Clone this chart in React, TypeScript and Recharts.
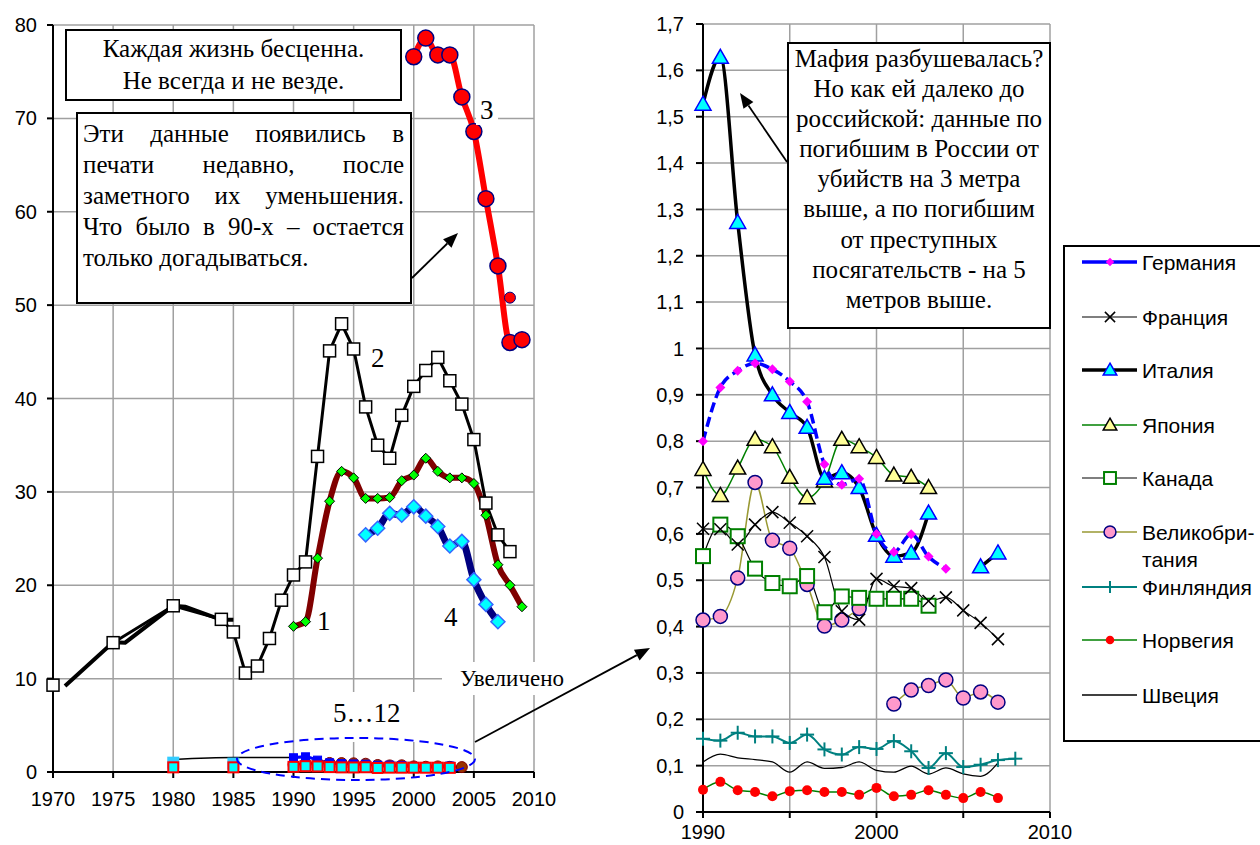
import React from 'react';
import { LineChart, Line, XAxis, YAxis, CartesianGrid } from 'recharts';

// left chart: killed per year, thousands
const s2Years = [1970, 1971, 1975, 1980, 1984, 1985, 1986, 1987, 1988, 1989, 1990, 1991, 1992, 1993, 1994, 1995, 1996, 1997, 1998, 1999, 2000, 2001, 2002, 2003, 2004, 2005, 2006, 2007, 2008];
const s2Values = [9.3, null, 13.85, 17.8, 16.35, 15.0, 10.6, 11.35, 14.3, 18.4, 21.1, 22.5, 33.8, 45.1, 48.0, 45.3, 39.1, 35.0, 33.6, 38.2, 41.3, 43.0, 44.4, 41.9, 39.4, 35.6, 28.8, 25.4, 23.6];
const s2bYears = [1971, 1975, 1976, 1980, 1981, 1984, 1985];
const s2bValues = [9.2, 13.9, 13.85, 17.8, 17.7, 16.3, 16.3];
const s1Years = [1990, 1991, 1992, 1993, 1994, 1995, 1996, 1997, 1998, 1999, 2000, 2001, 2002, 2003, 2004, 2005, 2006, 2007, 2008, 2009];
const s1Values = [15.6, 16.1, 22.9, 29.0, 32.2, 31.5, 29.3, 29.3, 29.4, 31.2, 31.8, 33.6, 32.2, 31.5, 31.5, 30.9, 27.5, 22.2, 20.0, 17.7];
const s3Years = [2000, 2001, 2002, 2003, 2004, 2005, 2006, 2007, 2008, 2009];
const s3Values = [76.6, 78.6, 76.8, 76.8, 72.3, 68.6, 61.4, 54.2, 46.0, 46.3];
const s3bYears = [2008];
const s3bValues = [50.8];
const s4Years = [1996, 1997, 1998, 1999, 2000, 2001, 2002, 2003, 2004, 2005, 2006, 2007];
const s4Values = [25.4, 26.1, 27.7, 27.5, 28.4, 27.4, 26.3, 24.2, 24.7, 20.6, 17.95, 16.1];
const earlyYears = [1980, 1985, 1991];
const earlyBlack = [1.35, 1.55, 1.55];
const earlyCyan = [1.0, 0.9, null];
const earlyRed = [0.5, 0.5, null];

const leftXTicks = [1970, 1975, 1980, 1985, 1990, 1995, 2000, 2005, 2010];
const leftYTicks = [0, 10, 20, 30, 40, 50, 60, 70, 80];

// right chart: per 100 000
const rightYears = [1990, 1991, 1992, 1993, 1994, 1995, 1996, 1997, 1998, 1999, 2000, 2001, 2002, 2003, 2004, 2005, 2006, 2007, 2008];
const germany = [0.8, 0.916, 0.952, 0.968, 0.955, 0.929, 0.885, 0.75, 0.706, 0.719, 0.6, 0.561, 0.599, 0.551, 0.525, null, null, null, null];
const france = [0.611, 0.61, 0.577, 0.62, 0.647, 0.624, 0.595, 0.55, 0.433, 0.415, 0.503, 0.487, 0.483, 0.455, 0.463, 0.435, 0.408, 0.373, null];
const italy = [1.527, 1.628, 1.272, 0.986, 0.9, 0.862, 0.83, 0.72, 0.732, 0.7, 0.597, 0.552, 0.559, 0.645, null, null, 0.529, 0.559, null];
const japan = [0.739, 0.683, 0.742, 0.804, 0.788, 0.722, 0.678, 0.714, 0.804, 0.788, 0.765, 0.727, 0.722, 0.7, null, null, null, null, null];
const canada = [0.552, 0.62, 0.595, 0.525, 0.494, 0.487, 0.509, 0.431, 0.465, 0.462, 0.46, 0.46, 0.46, 0.445, null, null, null, null, null];
const uk = [0.414, 0.422, 0.505, 0.711, 0.586, 0.569, 0.491, 0.401, 0.414, 0.439, null, 0.233, 0.263, 0.273, 0.285, 0.246, 0.259, 0.237, null];
const finland = [0.158, 0.154, 0.171, 0.163, 0.163, 0.149, 0.167, 0.135, 0.124, 0.14, 0.136, 0.153, 0.131, 0.095, 0.127, 0.097, 0.102, 0.112, 0.115];
const sweden = [0.108, 0.125, 0.117, 0.113, 0.108, 0.086, 0.108, 0.094, 0.096, 0.108, 0.09, 0.086, 0.099, 0.082, 0.095, 0.082, 0.077, 0.106, null];
const norway = [0.048, 0.065, 0.047, 0.043, 0.034, 0.045, 0.047, 0.043, 0.043, 0.037, 0.052, 0.034, 0.037, 0.047, 0.037, 0.03, 0.043, 0.03, null];

const rightXTicks = [1990, 1995, 2000, 2005, 2010];
const rightYTicks = [0, 0.1, 0.2, 0.3, 0.4, 0.5, 0.6, 0.7, 0.8, 0.9, 1, 1.1, 1.2, 1.3, 1.4, 1.5, 1.6, 1.7];

const SANS = '"Liberation Sans", Arial, sans-serif';
const SERIF = '"Liberation Serif", "Times New Roman", serif';
const GRID = '#a0a0a0';

function Marker({ shape, cx, cy, r, fill, stroke, sw }: any) {
  if (shape === 'diamond')
    return <polygon points={`${cx},${cy - r} ${cx + r},${cy} ${cx},${cy + r} ${cx - r},${cy}`} fill={fill} stroke={stroke} strokeWidth={sw} />;
  if (shape === 'triangle')
    return <polygon points={`${cx},${cy - r} ${cx + r},${cy + r * 0.75} ${cx - r},${cy + r * 0.75}`} fill={fill} stroke={stroke} strokeWidth={sw} />;
  if (shape === 'square')
    return <rect x={cx - r} y={cy - r} width={2 * r} height={2 * r} fill={fill} stroke={stroke} strokeWidth={sw} />;
  if (shape === 'circle')
    return <circle cx={cx} cy={cy} r={r} fill={fill} stroke={stroke} strokeWidth={sw} />;
  if (shape === 'cross')
    return (
      <g stroke={stroke} strokeWidth={sw}>
        <line x1={cx - r} y1={cy - r} x2={cx + r} y2={cy + r} />
        <line x1={cx - r} y1={cy + r} x2={cx + r} y2={cy - r} />
      </g>
    );
  if (shape === 'plus')
    return (
      <g stroke={stroke} strokeWidth={sw}>
        <line x1={cx - r} y1={cy} x2={cx + r} y2={cy} />
        <line x1={cx} y1={cy - r} x2={cx} y2={cy + r} />
      </g>
    );
  return null;
}

const mk = (shape: string, r: number, fill: string, stroke: string, sw = 1) => (p: any) => {
  const { cx, cy, index, value } = p;
  if (value == null || cx == null || cy == null || isNaN(cy)) return <g key={`d${index}`} />;
  return <g key={`d${index}`}><Marker shape={shape} cx={cx} cy={cy} r={r} fill={fill} stroke={stroke} sw={sw} /></g>;
};

const pairs = (years: number[], values: (number | null)[]) => years.map((year, i) => ({ year, v: values[i] }));

const rightData = rightYears.map((year, i) => ({
  year,
  germany: germany[i],
  france: france[i],
  italy: italy[i],
  japan: japan[i],
  canada: canada[i],
  uk: uk[i],
  finland: finland[i],
  sweden: sweden[i],
  norway: norway[i],
}));

const clusterYears = rightYears.slice(0, 15);

const rightSeries = [
  { key: 'sweden', name: 'Швеция', color: '#000', width: 1.3, dash: undefined, shape: 'none', r: 0, fill: '', stroke: '', sw: 1 },
  { key: 'norway', name: 'Норвегия', color: '#008000', width: 1.5, dash: undefined, shape: 'circle', r: 5, fill: '#ff0000', stroke: 'none', sw: 0 },
  { key: 'finland', name: 'Финляндия', color: '#008080', width: 2, dash: undefined, shape: 'plus', r: 7, fill: 'none', stroke: '#008080', sw: 2 },
  { key: 'uk', name: 'Великобри-\nтания', color: '#999933', width: 1.5, dash: undefined, shape: 'circle', r: 7, fill: '#ff99cc', stroke: '#000080', sw: 1.5 },
  { key: 'canada', name: 'Канада', color: '#000', width: 1.2, dash: undefined, shape: 'square', r: 7, fill: '#fff', stroke: '#008000', sw: 2 },
  { key: 'france', name: 'Франция', color: '#000', width: 1.2, dash: undefined, shape: 'cross', r: 6, fill: 'none', stroke: '#000', sw: 1.5 },
  { key: 'japan', name: 'Япония', color: '#008000', width: 1.5, dash: undefined, shape: 'triangle', r: 8, fill: '#ffff99', stroke: '#000', sw: 1.5 },
  { key: 'italy', name: 'Италия', color: '#000', width: 3.5, dash: undefined, shape: 'triangle', r: 8, fill: '#00ffff', stroke: '#0000ff', sw: 1.5 },
  { key: 'germany', name: 'Германия', color: '#0000ff', width: 3.5, dash: '10 5', shape: 'diamond', r: 5, fill: '#ff00ff', stroke: 'none', sw: 0 },
];
const legendOrder = ['germany', 'france', 'italy', 'japan', 'canada', 'uk', 'finland', 'norway', 'sweden'];
const legendY = [262, 317, 370, 425, 478, 532, 587, 640, 695];

const tickStyle = { fill: '#000', fontSize: 20, fontFamily: SANS };

function Arrow({ x1, y1, x2, y2 }: any) {
  const a = Math.atan2(y2 - y1, x2 - x1);
  const L = 15, W = 6;
  const bx = x2 - L * Math.cos(a), by = y2 - L * Math.sin(a);
  const px = -Math.sin(a) * W, py = Math.cos(a) * W;
  return (
    <g>
      <line x1={x1} y1={y1} x2={bx} y2={by} stroke="#000" strokeWidth={1.8} />
      <polygon points={`${x2},${y2} ${bx + px},${by + py} ${bx - px},${by - py}`} fill="#000" />
    </g>
  );
}

const rightFmt = (v: number) => (v === 0 ? '0' : v === 1 ? '1' : v.toFixed(1).replace('.', ','));

export default function App() {
  const box: React.CSSProperties = {
    position: 'absolute', background: '#fff', border: '2px solid #000', boxSizing: 'border-box',
    fontFamily: SERIF, fontSize: 25, color: '#000',
  };
  const justLine: React.CSSProperties = { textAlign: 'justify', textAlignLast: 'justify', whiteSpace: 'nowrap', fontFamily: SERIF };
  const numStyle: React.CSSProperties = { position: 'absolute', fontFamily: SERIF, fontSize: 27, lineHeight: '30px', background: '#fff' };

  return (
    <div style={{ position: 'absolute', left: 0, top: 0, width: 1260, height: 845, overflow: 'hidden', background: '#fff' }}>
      <div style={{ position: 'absolute', left: 0, top: 0 }}>
        <LineChart width={580} height={830} margin={{ top: 25, right: 46, bottom: 30, left: 0 }}>
          <CartesianGrid stroke={GRID} strokeWidth={1.5} />
          <XAxis dataKey="year" type="number" domain={[1970, 2010]} ticks={leftXTicks} height={28}
            stroke="#000" strokeWidth={2} tickSize={6} tickMargin={14} tick={tickStyle} interval={0} />
          <YAxis type="number" domain={[0, 80]} ticks={leftYTicks} width={53}
            stroke="#000" strokeWidth={2} tickSize={6} tickMargin={10} tick={tickStyle} interval={0} />
          <Line data={pairs(s2bYears, s2bValues)} dataKey="v" type="linear" stroke="#000" strokeWidth={4} dot={false} activeDot={false} isAnimationActive={false} />
          <Line data={pairs(s2Years, s2Values)} dataKey="v" type="linear" stroke="#000" strokeWidth={3}
            dot={mk('square', 6, '#fff', '#000', 1.5)} activeDot={false} isAnimationActive={false} />
          <Line data={pairs(s1Years, s1Values)} dataKey="v" type="monotone" stroke="#800000" strokeWidth={6}
            dot={mk('diamond', 5, '#00ff00', '#000', 1)} activeDot={false} isAnimationActive={false} />
          <Line data={pairs(s4Years, s4Values)} dataKey="v" type="monotone" stroke="#000080" strokeWidth={7}
            dot={mk('diamond', 7, '#00ffff', '#3366ff', 1.5)} activeDot={false} isAnimationActive={false} />
          <Line data={pairs(s3Years, s3Values)} dataKey="v" type="monotone" stroke="#ff0000" strokeWidth={6}
            dot={mk('circle', 8, '#ff0000', '#000080', 1.5)} activeDot={false} isAnimationActive={false} />
          <Line data={pairs(s3bYears, s3bValues)} dataKey="v" stroke="none"
            dot={mk('circle', 5.5, '#ff0000', '#000080', 1)} activeDot={false} isAnimationActive={false} />
          {/* 5...12 cluster */}
          <Line data={pairs(earlyYears, earlyBlack)} dataKey="v" type="monotone" stroke="#000" strokeWidth={1.5} dot={false} activeDot={false} isAnimationActive={false} />
          <Line data={pairs(earlyYears, earlyCyan)} dataKey="v" stroke="none" dot={mk('square', 6, '#33ccff', 'none', 0)} activeDot={false} isAnimationActive={false} />
          <Line data={pairs(clusterYears, japan)} dataKey="v" type="monotone" stroke="#33ccff" strokeWidth={6} dot={false} activeDot={false} isAnimationActive={false} />
          <Line data={pairs(clusterYears, germany)} dataKey="v" type="monotone" stroke="#800000" strokeWidth={2}
            dot={mk('circle', 5.5, '#993300', '#800000', 1)} activeDot={false} isAnimationActive={false} />
          <Line data={pairs(clusterYears, italy)} dataKey="v" type="monotone" stroke="#0000ff" strokeWidth={3}
            dot={mk('square', 4, '#0000ff', '#0000ff', 1)} activeDot={false} isAnimationActive={false} />
          <Line data={pairs(earlyYears, earlyRed)} dataKey="v" stroke="none" dot={mk('square', 5, '#00ffff', '#ff0000', 2)} activeDot={false} isAnimationActive={false} />
          <Line data={pairs(clusterYears, canada)} dataKey="v" stroke="none" dot={mk('square', 5, '#00ffff', '#ff0000', 2)} activeDot={false} isAnimationActive={false} />
        </LineChart>
      </div>

      <div style={{ position: 'absolute', left: 600, top: 0 }}>
        <LineChart width={500} height={870} data={rightData} margin={{ top: 24, right: 50, bottom: 25, left: 0 }}>
          <CartesianGrid stroke={GRID} strokeWidth={1.5} />
          <XAxis dataKey="year" type="number" domain={[1990, 2010]} ticks={rightXTicks} height={33}
            stroke="#000" strokeWidth={2} tickSize={6} tickMargin={7} tick={tickStyle} interval={0}
            tickFormatter={(v: number) => (v % 10 === 0 ? String(v) : '')} />
          <YAxis type="number" domain={[0, 1.7]} ticks={rightYTicks} width={103}
            stroke="#000" strokeWidth={2} tickSize={7} tickMargin={12} tick={tickStyle} interval={0}
            tickFormatter={rightFmt} />
          {rightSeries.map((s) => (
            <Line key={s.key} dataKey={s.key} name={s.name} type="monotone" stroke={s.color} strokeWidth={s.width}
              strokeDasharray={s.dash} dot={s.shape === 'none' ? false : mk(s.shape, s.r, s.fill, s.stroke, s.sw)}
              activeDot={false} isAnimationActive={false} />
          ))}
        </LineChart>
      </div>

      {/* legend */}
      <div style={{ position: 'absolute', left: 1063, top: 245, width: 240, height: 497, border: '2px solid #000', boxSizing: 'border-box', background: '#fff' }}>
        <svg width={80} height={497} style={{ position: 'absolute', left: 0, top: 0 }}>
          {legendOrder.map((k, i) => {
            const s = rightSeries.find((x) => x.key === k)!;
            const y = legendY[i] - 247;
            return (
              <g key={k}>
                <line x1={17} y1={y} x2={72} y2={y} stroke={s.color} strokeWidth={s.width} />
                {s.shape !== 'none' && <Marker shape={s.shape} cx={45} cy={y} r={s.r * 0.85} fill={s.fill} stroke={s.stroke} sw={s.sw} />}
              </g>
            );
          })}
        </svg>
        {legendOrder.map((k, i) => {
          const s = rightSeries.find((x) => x.key === k)!;
          return (
            <div key={k} style={{ position: 'absolute', left: 77, top: legendY[i] - 247 - 13, fontFamily: SANS, fontSize: 21, lineHeight: '27px', whiteSpace: 'pre' }}>
              {s.name}
            </div>
          );
        })}
      </div>

      {/* annotations */}
      <div style={{ ...box, left: 65, top: 29, width: 337, height: 72, textAlign: 'center', lineHeight: '32px', paddingTop: 2 }}>
        <div>Каждая жизнь бесценна.</div>
        <div>Не всегда и не везде.</div>
      </div>
      <div style={{ ...box, left: 76, top: 112, width: 336, height: 192, lineHeight: '31px', padding: '4px 6px 0 5px' }}>
        <div style={justLine}>Эти данные появились в</div>
        <div style={justLine}>печати недавно, после</div>
        <div style={justLine}>заметного их уменьшения.</div>
        <div style={justLine}>Что было в 90-х – остается</div>
        <div style={{ whiteSpace: 'nowrap', fontFamily: SERIF }}>только догадываться.</div>
      </div>
      <div style={{ ...box, left: 787, top: 42, width: 264, height: 287, textAlign: 'center', lineHeight: '30.1px', paddingTop: 0 }}>
        <div>Мафия разбушевалась?</div>
        <div>Но как ей далеко до</div>
        <div>российской: данные по</div>
        <div>погибшим в России от</div>
        <div>убийств на 3 метра</div>
        <div>выше, а по погибшим</div>
        <div>от преступных</div>
        <div>посягательств - на 5</div>
        <div>метров выше.</div>
      </div>

      <div style={{ ...numStyle, left: 317, top: 606, background: 'transparent' }}>1</div>
      <div style={{ ...numStyle, left: 371, top: 343, background: 'transparent' }}>2</div>
      <div style={{ ...numStyle, left: 476, top: 95, padding: '0 4px' }}>3</div>
      <div style={{ ...numStyle, left: 444, top: 602, background: 'transparent' }}>4</div>
      <div style={{ position: 'absolute', left: 300, top: 692, width: 170, height: 50, background: '#fff' }} />
      <div style={{ ...numStyle, left: 333, top: 698, background: 'transparent' }}>5…12</div>
      <div style={{ position: 'absolute', left: 442, top: 662, width: 140, height: 33, background: '#fff', fontFamily: SERIF, fontSize: 23, lineHeight: '33px', paddingLeft: 18, boxSizing: 'border-box' }}>Увеличено</div>

      <svg width={1260} height={845} style={{ position: 'absolute', left: 0, top: 0, pointerEvents: 'none' }}>
        <ellipse cx={356} cy={759} rx={119} ry={21} fill="none" stroke="#0000ff" strokeWidth={2} strokeDasharray="9 6" />
        <Arrow x1={412} y1={278} x2={458} y2={233} />
        <Arrow x1={787} y1={162} x2={740} y2={93} />
        <Arrow x1={475} y1={742} x2={650} y2={648} />
      </svg>
    </div>
  );
}
